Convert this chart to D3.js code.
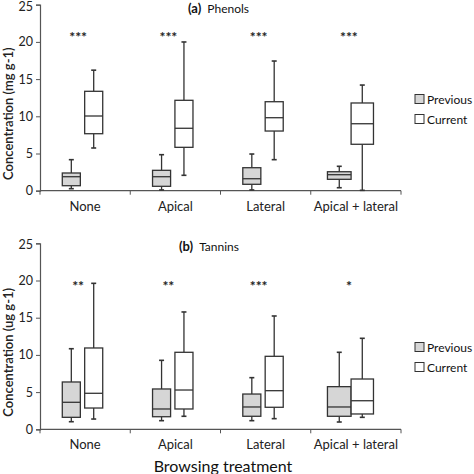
<!DOCTYPE html>
<html>
<head>
<meta charset="utf-8">
<script src="https://cdn.jsdelivr.net/npm/d3@7"></script>
<style>
  html, body { margin: 0; padding: 0; background: #fff; }
  svg { display: block; font-family: Lato, "Open Sans", sans-serif; }
</style>
</head>
<body>
<svg id="chart" width="474" height="474"></svg>
<script>
// ---------- data ----------
const categories = ["None", "Apical", "Lateral", "Apical + lateral"];
const seriesNames = ["Previous", "Current"];
const yTicks = [0, 5, 10, 15, 20, 25];

// Phenols (mg g-1): [lower whisker, Q1, median, Q3, upper whisker]
const phenolsPrevious = [
  [0.27, 0.67, 1.88, 2.38, 4.17],
  [0.10, 0.59, 1.88, 2.74, 4.84],
  [0.10, 0.86, 1.61, 3.09, 4.93],
  [0.40, 1.53, 2.15, 2.55, 3.28]
];
const phenolsCurrent = [
  [5.74, 7.66, 10.04, 13.36, 16.20],
  [2.07, 5.83, 8.39, 12.15, 19.99],
  [4.17, 8.02, 9.81, 11.96, 17.43],
  [0.05, 6.24, 9.00, 11.79, 14.20]
];
const phenolsSignif = ["***", "***", "***", "***"];

// Tannins (ug g-1)
const tanninsPrevious = [
  [1.02, 1.61, 3.63, 6.36, 10.83],
  [1.16, 1.69, 2.73, 5.42, 9.27],
  [1.16, 1.75, 3.00, 4.74, 6.94],
  [0.98, 1.75, 3.00, 5.73, 10.35]
];
const tanninsCurrent = [
  [1.38, 2.86, 4.84, 10.93, 19.62],
  [1.75, 2.73, 5.28, 10.35, 15.77],
  [1.43, 2.96, 5.19, 9.81, 15.23],
  [1.61, 2.06, 3.84, 6.76, 12.23]
];
const tanninsSignif = ["**", "**", "***", "*"];

// ---------- layout ----------
const svg = d3.select("#chart");
const x = d3.scaleBand().domain(categories).range([40, 401]).paddingInner(0).paddingOuter(0);
// box spans as fractions of each band
const boxLayout = [
  { p: [0.247, 0.447], c: [0.495, 0.695] },
  { p: [0.247, 0.447], c: [0.495, 0.695] },
  { p: [0.247, 0.447], c: [0.495, 0.695] },
  { p: [0.185, 0.447], c: [0.447, 0.695] }
];
const fills = { Previous: "#d6d6d6", Current: "#ffffff" };
const stroke = "#333";

function panel(cfg) {
  const y = d3.scaleLinear().domain([0, 25]).range([cfg.y0, cfg.y0 - 186]);
  const g = svg.append("g");

  // y axis
  const yAxis = d3.axisLeft(y).tickValues(yTicks).tickSize(4).tickPadding(3);
  const ya = g.append("g").attr("transform", "translate(40,0)").call(yAxis);
  ya.select(".domain").attr("stroke", "#555").attr("stroke-width", 1.2);
  ya.selectAll(".tick line").attr("stroke", "#555");
  ya.selectAll("text").attr("font-size", 12.5).attr("fill", "#222").attr("font-family", "Lato, sans-serif");
  ya.selectAll(".tick").filter(d => d === 25).select("text").attr("dy", "0.45em");

  // x axis
  const xa = g.append("g").attr("transform", `translate(0,${cfg.y0})`);
  xa.append("line").attr("x1", 40).attr("x2", 401).attr("y1", 0).attr("y2", 0)
    .attr("stroke", "#555").attr("stroke-width", 1.2);
  const bounds = categories.map(c => x(c)).concat([x.range()[1]]);
  xa.selectAll("line.tk").data(bounds).join("line").attr("class", "tk")
    .attr("x1", d => d).attr("x2", d => d).attr("y1", 0).attr("y2", 4)
    .attr("stroke", "#555");
  xa.selectAll("text").data(categories).join("text")
    .attr("x", d => x(d) + x.bandwidth() / 2).attr("y", 20)
    .attr("text-anchor", "middle").attr("font-size", 13).attr("fill", "#222")
    .text(d => d);

  // boxes
  const series = [
    { name: "Previous", key: "p", data: cfg.prev },
    { name: "Current", key: "c", data: cfg.curr }
  ];
  series.forEach(s => {
    s.data.forEach((v, i) => {
      const bw = x.bandwidth();
      const x0 = x(categories[i]) + boxLayout[i][s.key][0] * bw;
      const x1 = x(categories[i]) + boxLayout[i][s.key][1] * bw;
      const cx = (x0 + x1) / 2;
      const bg = g.append("g");
      // whiskers
      bg.append("line").attr("x1", cx).attr("x2", cx).attr("y1", y(v[4])).attr("y2", y(v[3]))
        .attr("stroke", stroke).attr("stroke-width", 1.3);
      bg.append("line").attr("x1", cx).attr("x2", cx).attr("y1", y(v[1])).attr("y2", y(v[0]))
        .attr("stroke", stroke).attr("stroke-width", 1.3);
      [v[0], v[4]].forEach(w => {
        bg.append("line").attr("x1", cx - 2.5).attr("x2", cx + 2.5).attr("y1", y(w)).attr("y2", y(w))
          .attr("stroke", stroke).attr("stroke-width", 1.6);
      });
      bg.append("rect").attr("x", x0).attr("width", x1 - x0)
        .attr("y", y(v[3])).attr("height", y(v[1]) - y(v[3]))
        .attr("fill", fills[s.name]).attr("stroke", stroke).attr("stroke-width", 1.3);
      bg.append("line").attr("x1", x0).attr("x2", x1).attr("y1", y(v[2])).attr("y2", y(v[2]))
        .attr("stroke", stroke).attr("stroke-width", 1.3);
    });
  });

  // significance
  g.selectAll("text.sig").data(cfg.sig).join("text").attr("class", "sig")
    .attr("x", (d, i) => x(categories[i]) + x.bandwidth() / 2 - 7)
    .attr("y", cfg.sigY)
    .attr("text-anchor", "middle").attr("font-size", 14).attr("font-weight", "bold")
    .attr("fill", "#222").text(d => d);

  // title
  const t = g.append("text").attr("x", cfg.titleX).attr("y", cfg.titleY).attr("fill", "#111");
  t.append("tspan").attr("font-weight", "bold").attr("font-size", 13).text(cfg.tag);
  t.append("tspan").attr("font-size", 12).attr("dx", 6).text(cfg.title);

  // y label
  g.append("text")
    .attr("transform", `translate(13,${cfg.y0 - 77}) rotate(-90)`)
    .attr("text-anchor", "middle").attr("font-size", 13).attr("font-weight", 600)
    .attr("fill", "#222").text(cfg.ylabel);

  // legend
  const lg = g.append("g");
  seriesNames.forEach((n, i) => {
    const ly = cfg.legendY + i * 20;
    lg.append("rect").attr("x", 415).attr("y", ly - 4.5).attr("width", 9).attr("height", 9)
      .attr("fill", fills[n]).attr("stroke", stroke).attr("stroke-width", 1);
    lg.append("text").attr("x", 427).attr("y", ly + 4.5).attr("font-size", 12).attr("fill", "#111").text(n);
  });
}

panel({
  y0: 190.7, prev: phenolsPrevious, curr: phenolsCurrent, sig: phenolsSignif, sigY: 42,
  tag: "(a)", title: "Phenols", titleX: 188, titleY: 13,
  ylabel: "Concentration (mg g-1)", legendY: 99
});
panel({
  y0: 429.3, prev: tanninsPrevious, curr: tanninsCurrent, sig: tanninsSignif, sigY: 291,
  tag: "(b)", title: "Tannins", titleX: 179, titleY: 251,
  ylabel: "Concentration (ug g-1)", legendY: 347
});

svg.append("text").attr("x", 223).attr("y", 472).attr("text-anchor", "middle")
  .attr("font-size", 16).attr("fill", "#111").text("Browsing treatment");
</script>
</body>
</html>
